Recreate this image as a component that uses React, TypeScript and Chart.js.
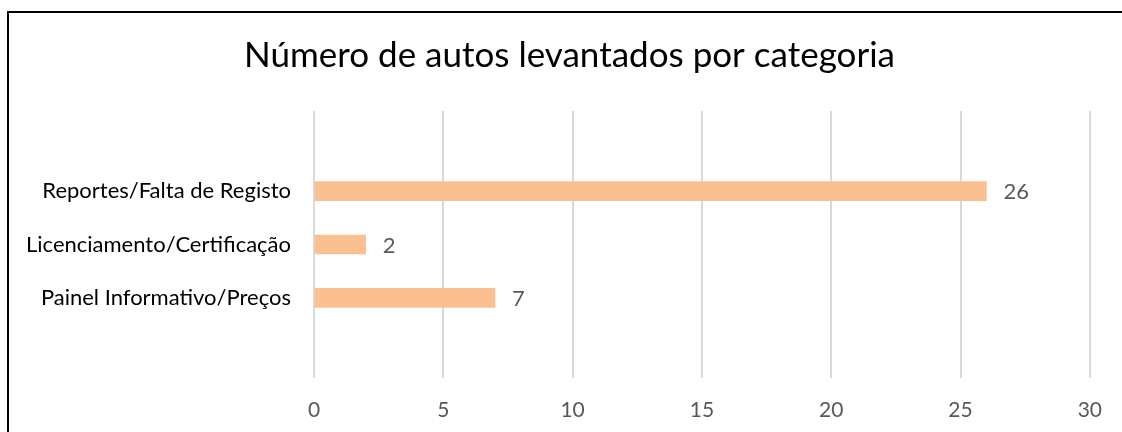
import React, { useEffect, useRef } from "react";
import { Chart, registerables } from "chart.js";

Chart.register(...registerables);

const TITLE = "Número de autos levantados por categoria";
const CATEGORIES = ["", "Reportes/Falta de Registo", "Licenciamento/Certificação", "Painel Informativo/Preços", ""];
const VALUES: (number | null)[] = [null, 26, 2, 7, null];
const X_MIN = 0;
const X_MAX = 30;
const X_STEP = 5;

const FONT = "Lato, 'Open Sans', sans-serif";

export default function App() {
  const ref = useRef<HTMLCanvasElement | null>(null);

  useEffect(() => {
    document.body.style.margin = "0";
    const canvas = ref.current;
    if (!canvas) return;

    const dataLabels = {
      id: "dataLabels",
      afterDatasetsDraw(chart: any) {
        const ctx = chart.ctx;
        const meta = chart.getDatasetMeta(0);
        ctx.save();
        ctx.font = `22px ${FONT}`;
        ctx.fillStyle = "#595959";
        ctx.textAlign = "left";
        ctx.textBaseline = "middle";
        meta.data.forEach((el: any, i: number) => {
          const v = VALUES[i];
          if (v === null || v === undefined) return;
          ctx.fillText(String(v), el.x + 17, el.y + 1);
        });
        ctx.restore();
      },
    };

    const chartTitle = {
      id: "chartTitle",
      afterDraw(chart: any) {
        const ctx = chart.ctx;
        ctx.save();
        ctx.font = `35px ${FONT}`;
        ctx.fillStyle = "#000000";
        ctx.textAlign = "center";
        ctx.textBaseline = "alphabetic";
        ctx.fillText(TITLE, chart.width / 2 + 8.5, 67);
        ctx.restore();
      },
    };

    const chart = new Chart(canvas, {
      type: "bar",
      data: {
        labels: CATEGORIES,
        datasets: [
          {
            data: VALUES,
            backgroundColor: "#FAC090",
            borderWidth: 0,
            barThickness: 19,
          },
        ],
      },
      options: {
        indexAxis: "y",
        responsive: false,
        animation: false,
        layout: { padding: { left: 16, right: 30, top: 111, bottom: 0 } },
        plugins: {
          legend: { display: false },
          tooltip: { enabled: false },
          title: { display: false },
        },
        scales: {
          x: {
            min: X_MIN,
            max: X_MAX,
            ticks: {
              stepSize: X_STEP,
              color: "#595959",
              font: { family: FONT, size: 21 },
              padding: 20,
            },
            grid: { color: "#D9D9D9", lineWidth: 2, drawTicks: false },
            border: { display: false },
            afterFit: (scale: any) => {
              scale.height = 54;
            },
          },
          y: {
            ticks: {
              color: "#000000",
              font: { family: FONT, size: 22 },
              padding: 23,
              autoSkip: false,
            },
            grid: { display: false, drawTicks: false },
            border: { display: false },
            afterFit: (scale: any) => {
              scale.width = 298;
            },
          },
        },
      },
      plugins: [dataLabels, chartTitle],
    });

    return () => chart.destroy();
  }, []);

  return (
    <div style={{ position: "absolute", left: 0, top: 0, width: 1122, height: 432, overflow: "hidden", background: "#fff" }}>
      <canvas ref={ref} width={1122} height={432} style={{ position: "absolute", left: 0, top: 0 }} />
      <div
        style={{
          position: "absolute",
          left: 7,
          top: 11,
          width: 1115,
          height: 421,
          borderTop: "2px solid #000",
          borderLeft: "2px solid #000",
          boxSizing: "border-box",
          pointerEvents: "none",
        }}
      />
    </div>
  );
}
